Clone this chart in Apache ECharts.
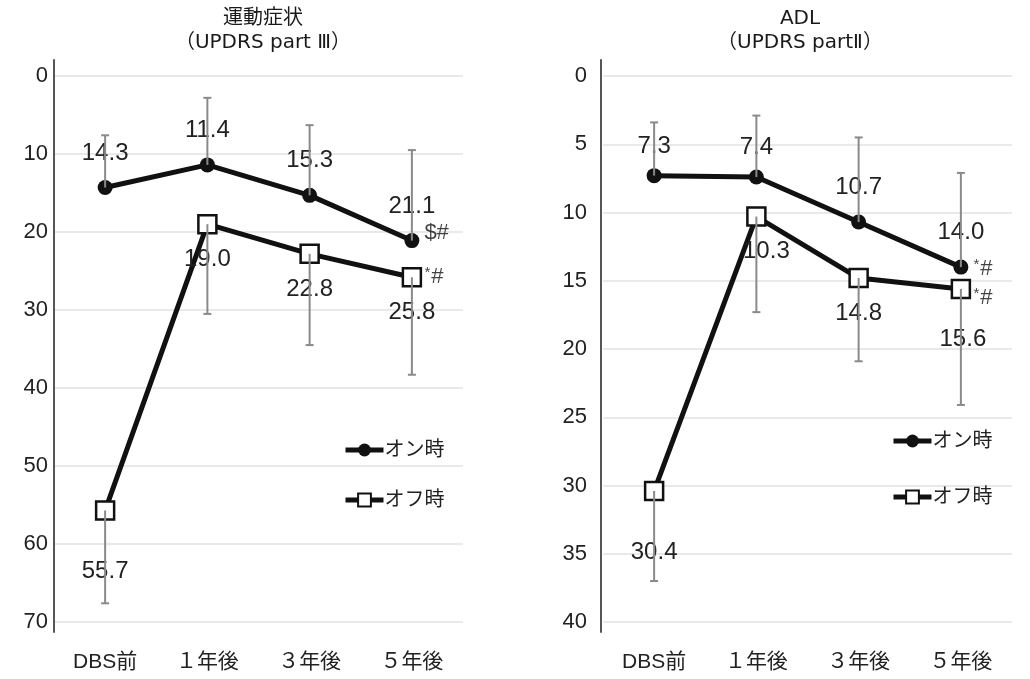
<!DOCTYPE html>
<html>
<head>
<meta charset="utf-8">
<script src="https://cdn.jsdelivr.net/npm/echarts@6/dist/echarts.min.js"></script>
<style>
html, body { margin: 0; padding: 0; background: #fff; }
#chart { width: 1030px; height: 679px; }
</style>
</head>
<body>
<div id="chart"></div>
<script>
var categories = ['DBS前', '１年後', '３年後', '５年後'];

// 運動症状 (UPDRS part III)
var motorOn = [14.3, 11.4, 15.3, 21.1];
var motorOnErr = [7.6, 2.8, 6.3, 9.5];
var motorOff = [55.7, 19.0, 22.8, 25.8];
var motorOffErr = [67.6, 30.5, 34.5, 38.3];
var motorOnMark = ['', '', '', '$#'];
var motorOffMark = ['', '', '', '*#'];
var motorTicks = [0, 70, 10];

// ADL (UPDRS part II)
var adlOn = [7.3, 7.4, 10.7, 14.0];
var adlOnErr = [3.4, 2.9, 4.5, 7.1];
var adlOff = [30.4, 10.3, 14.8, 15.6];
var adlOffErr = [37.0, 17.3, 20.9, 24.1];
var adlOnMark = ['', '', '', '*#'];
var adlOffMark = ['', '', '', '*#'];
var adlTicks = [0, 40, 5];

var FONT = "'Liberation Sans', 'Noto Sans CJK JP', sans-serif";
var TITLE_FONT = "'DejaVu Sans', 'Noto Sans CJK JP', sans-serif";
var TXT = '#222';

var myChart = echarts.init(document.getElementById('chart'));

function errData(mean, end) {
    return mean.map(function (m, i) { return [i, m, end[i]]; });
}

function renderErr(params, api) {
    var p0 = api.coord([api.value(0), api.value(1)]);
    var p1 = api.coord([api.value(0), api.value(2)]);
    var st = { stroke: '#8a8a8a', lineWidth: 2 };
    return {
        type: 'group',
        children: [
            { type: 'line', shape: { x1: p0[0], y1: p0[1], x2: p1[0], y2: p1[1] }, style: st },
            { type: 'line', shape: { x1: p1[0] - 4, y1: p1[1], x2: p1[0] + 4, y2: p1[1] }, style: st }
        ]
    };
}

function markData(vals, marks, dy) {
    var out = [];
    marks.forEach(function (m, i) {
        if (m) out.push({ value: [i, vals[i]], name: m, label: { offset: [0, dy] } });
    });
    return out;
}

function markFmt(p) {
    return p.name.charAt(0) === '*' ? '{s|*}{h|#}' : '{h|' + p.name + '}';
}

function buildLine(name, data, gi, isOn, labelOffsets) {
    return {
        name: name,
        type: 'line',
        xAxisIndex: gi,
        yAxisIndex: gi,
        data: data.map(function (v, i) {
            var o = { value: v };
            if (labelOffsets[i]) o.label = { offset: labelOffsets[i] };
            return o;
        }),
        symbol: isOn ? 'circle' : 'rect',
        symbolSize: isOn ? 15 : 18,
        lineStyle: { color: '#111', width: 5 },
        itemStyle: isOn ? { color: '#111' } : { color: '#fff', borderColor: '#111', borderWidth: 2.5 },
        label: {
            show: true,
            position: isOn ? 'top' : 'bottom',
            distance: isOn ? 15 : 13,
            fontSize: 24,
            fontFamily: FONT,
            color: TXT,
            formatter: function (p) { return p.value.toFixed(1); }
        },
        z: 3
    };
}

function buildErr(mean, end, gi) {
    return {
        type: 'custom',
        xAxisIndex: gi,
        yAxisIndex: gi,
        renderItem: renderErr,
        encode: { x: 0, y: [1, 2] },
        data: errData(mean, end),
        silent: true,
        z: 4
    };
}

function buildMark(vals, marks, gi, dy) {
    return {
        type: 'scatter',
        xAxisIndex: gi,
        yAxisIndex: gi,
        symbolSize: 1,
        itemStyle: { color: 'rgba(0,0,0,0)' },
        silent: true,
        data: markData(vals, marks, dy),
        label: {
            show: true,
            position: 'right',
            distance: 12,
            formatter: markFmt,
            rich: {
                s: { fontSize: 15, fontFamily: FONT, color: '#111', verticalAlign: 'top', padding: [0, 1, 8, 0] },
                h: { fontSize: 22, fontFamily: FONT, color: '#111' }
            }
        },
        z: 5
    };
}

var dataGrids = [
    { left: 54, width: 409, top: 76, height: 546 },
    { left: 603, width: 409, top: 76, height: 546 }
];
var lineGrids = [
    { left: 54, width: 409, top: 60, height: 572 },
    { left: 601, width: 409, top: 60, height: 572 }
];

function yAx(gi, t, margin) {
    return {
        type: 'value', gridIndex: gi, inverse: true,
        min: t[0], max: t[1], interval: t[2],
        axisLine: { show: false },
        axisTick: { show: false },
        axisLabel: { fontSize: 22, fontFamily: FONT, color: TXT, margin: margin },
        splitLine: { lineStyle: { color: '#e2e2e2', width: 1.5 } }
    };
}
function xAx(gi) {
    return {
        type: 'category', gridIndex: gi, data: categories,
        axisLine: { show: false },
        axisTick: { show: false },
        axisLabel: { fontSize: 21, fontFamily: FONT, color: TXT, margin: 30 },
        splitLine: { show: false }
    };
}
function lineY(gi) {
    return {
        type: 'value', gridIndex: gi, min: 0, max: 1,
        axisLine: { show: true, lineStyle: { color: '#555', width: 2 } },
        axisTick: { show: false }, axisLabel: { show: false }, splitLine: { show: false }
    };
}
function lineX(gi) {
    return { type: 'value', gridIndex: gi, show: false, min: 0, max: 1 };
}

function legendAt(name, left, top) {
    return {
        data: [name], left: left, top: top, orient: 'vertical',
        itemWidth: 38, itemHeight: 16, itemGap: 0,
        lineStyle: { width: 5, color: '#111' },
        textStyle: { fontSize: 20, fontFamily: FONT, color: TXT, padding: [0, 0, 0, -4] },
        selectedMode: false
    };
}

var titleStyle = { fontSize: 20, fontWeight: 'normal', fontFamily: TITLE_FONT, color: '#1a1a1a', lineHeight: 24 };

var option = {
    backgroundColor: '#fff',
    animation: false,
    title: [
        { text: '運動症状\n（UPDRS part Ⅲ）', left: 258, top: 2, textAlign: 'center', textStyle: titleStyle },
        { text: 'ADL\n（UPDRS partⅡ）', left: 795, top: 2, textAlign: 'center', textStyle: titleStyle }
    ],
    legend: [
        legendAt('オン時', 338, 435),
        legendAt('オフ時', 338, 485),
        legendAt('オン時', 886, 426),
        legendAt('オフ時', 886, 482)
    ],
    grid: dataGrids.concat(lineGrids),
    xAxis: [xAx(0), xAx(1), lineX(2), lineX(3)],
    yAxis: [yAx(0, motorTicks, 6), yAx(1, adlTicks, 16), lineY(2), lineY(3)],
    series: [
        buildLine('オン時', motorOn, 0, true, []),
        buildLine('オフ時', motorOff, 0, false, [[0, 26]]),
        buildErr(motorOn, motorOnErr, 0),
        buildErr(motorOff, motorOffErr, 0),
        buildMark(motorOn, motorOnMark, 0, -8),
        buildMark(motorOff, motorOffMark, 0, 0),
        buildLine('オン時', adlOn, 1, true, [[0, 5], [0, 5], null, null]),
        buildLine('オフ時', adlOff, 1, false, [[0, 26], [10, 0], null, [2, 15]]),
        buildErr(adlOn, adlOnErr, 1),
        buildErr(adlOff, adlOffErr, 1),
        buildMark(adlOn, adlOnMark, 1, 2),
        buildMark(adlOff, adlOffMark, 1, 9)
    ]
};

myChart.setOption(option);
</script>
</body>
</html>
